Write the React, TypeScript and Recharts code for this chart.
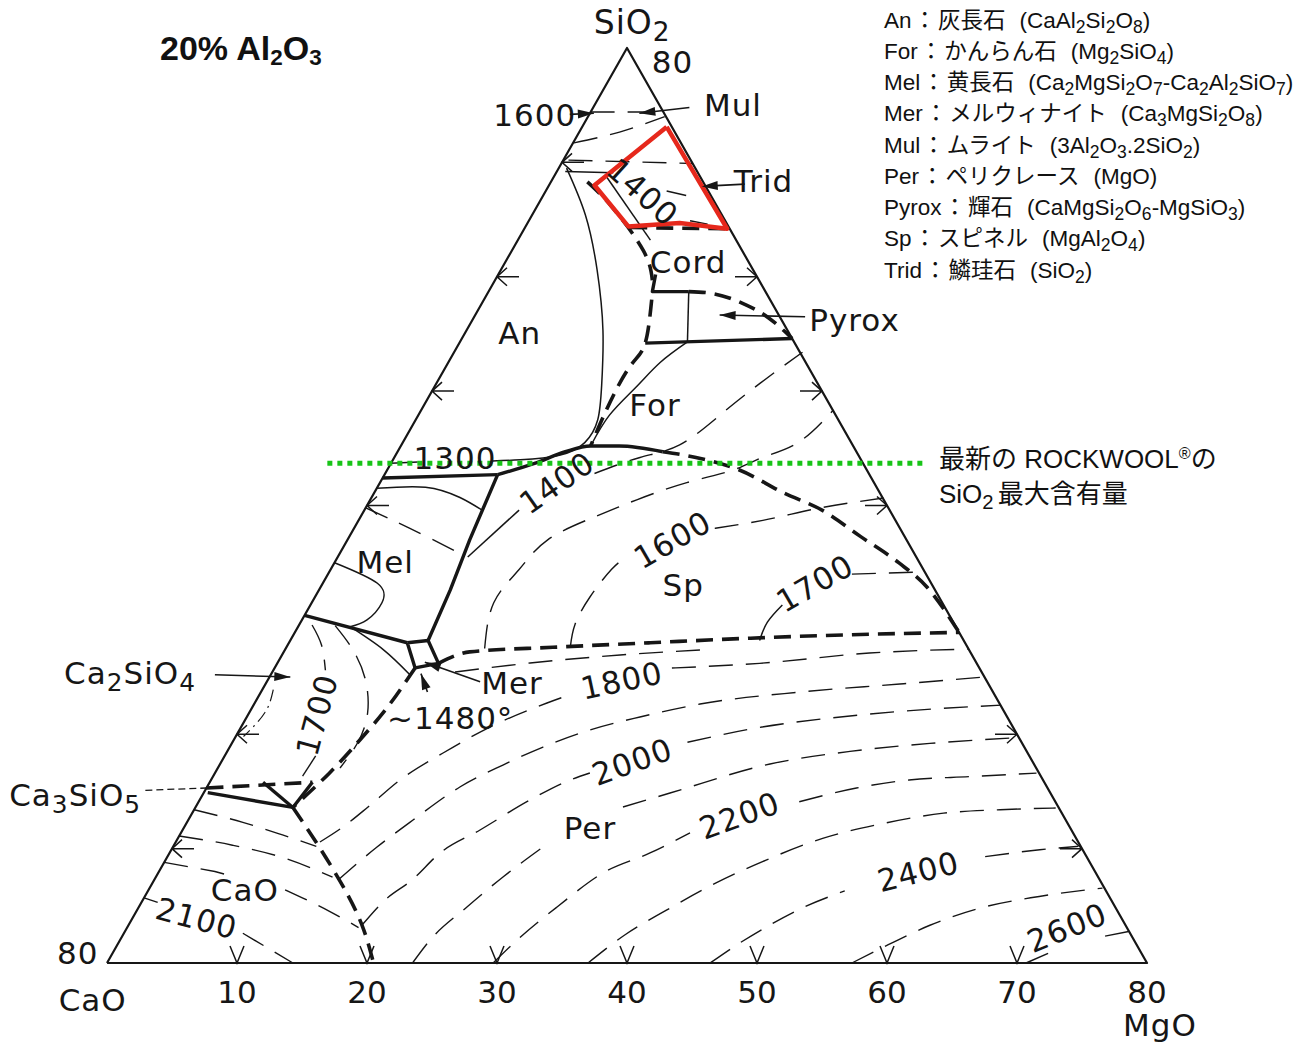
import React from "react";
import { ComposedChart, Line, Scatter, XAxis, YAxis } from "recharts";

// 20% Al2O3 section of CaO-MgO-SiO2. Every point is [MgO, SiO2] in wt%,
// CaO = 80 - MgO - SiO2. Plotted with x = MgO + SiO2/2, y = SiO2.
type Pt = [number, number];

const W = 1314;
const H = 1042;
const X_DOMAIN: [number, number] = [-8.2308, 92.846];
const Y_DOMAIN: [number, number] = [-6.9071, 84.1967];
const PX_X = W / (X_DOMAIN[1] - X_DOMAIN[0]);
const PX_Y = H / (Y_DOMAIN[1] - Y_DOMAIN[0]);
const INK = "#161616";

// --- frame
const TRIANGLE: Pt[] = [[0, 0], [0, 80], [80, 0], [0, 0]];

// --- thick solid boundaries
const MEL_TOP: Pt[] = [[0, 42.4], [8.7, 42.7]];
const MEL_SP: Pt[] = [[8.7, 42.7], [9.4, 37.0], [10.1, 32.6], [10.6, 28.2]];
const MEL_C2S: Pt[] = [[0, 30.4], [9.1, 28.0]];
const MER_BOX: Pt[] = [[9.1, 28.0], [10.6, 28.2], [12.4, 26.2], [10.8, 25.8], [9.1, 28.0]];
const AN_SP: Pt[] = [[8.7, 42.7], [11.1, 43.7], [12.9, 44.7], [14.6, 45.2], [16.8, 45.2], [20.4, 44.7]];
const FOR_PYROX: Pt[] = [[14.3, 54.2], [25.4, 54.6]];
const CORD_TICK: Pt[] = [[12.1, 60.2], [12.6, 58.7], [15.4, 58.7]];
const C3S_LOW: Pt[] = [[0.3, 14.9], [7.5, 13.6], [7.9, 15.8]];
const C3S_Y: Pt[] = [[4.1, 15.8], [7.5, 13.6]];

// --- thick dashed boundaries
const FOR_SP: Pt[] = [[20.4, 44.7], [23.2, 44.2], [27.1, 43.1], [31.5, 41.1], [35.2, 39.6], [39.3, 37.3], [43.4, 35.0], [46.6, 32.9], [51.1, 28.9]];
const SP_PER: Pt[] = [[12.4, 26.2], [14.3, 27.2], [20.5, 27.6], [27.8, 28.0], [35.3, 28.4], [42.8, 28.7], [51.1, 28.9]];
const MER_C3S: Pt[] = [[10.8, 25.8], [10.4, 22.4], [9.7, 19.5], [8.8, 16.6], [7.5, 13.6]];
const CAO_PER: Pt[] = [[7.5, 13.6], [11.3, 10.1], [15.4, 6.1], [18.3, 2.9], [20.5, 0]];
const CORD_FOR: Pt[] = [[12.9, 58.0], [14.3, 54.2], [14.2, 52.5], [14.1, 50.4], [14.3, 47.7], [14.6, 45.2]];
const CORD_TOP: Pt[] = [[2.8, 68.3], [5.8, 66.1], [10.1, 62.3], [12.1, 59.7]];
const CORD_PYROX: Pt[] = [[15.4, 58.7], [16.9, 58.6], [20.0, 57.7], [22.7, 56.4], [25.4, 54.6]];
const TRID_CORD: Pt[] = [[8.1, 64.3], [15.6, 64.2]];
const C3S_TOP: Pt[] = [[0, 15.3], [7.9, 15.8]];

// --- thin solid lines
const AN_LIQ: Pt[] = [[0.6, 69.5], [4.1, 65.4], [7.4, 60.6], [10.5, 55.3], [12.8, 50.5], [14.0, 47.5], [14.0, 45.5], [12.6, 44.4], [9.8, 44.0], [7.7, 43.9]];
const ISO_1300: Pt[] = [[0, 43.7], [2.0, 43.8]];
const FOR_THIN: Pt[] = [[14.6, 45.2], [14.7, 47.9], [15.5, 50.3], [16.3, 52.5], [17.5, 54.3]];
const CORD_VERT: Pt[] = [[15.4, 58.7], [17.5, 54.3]];
const MEL_ARC: Pt[] = [[0, 41.5], [3.7, 41.6], [6.8, 40.7], [9.05, 39.6]];
const MEL_BUBBLE: Pt[] = [[0, 35.0], [4.2, 33.2], [5.4, 31.5], [5.0, 30.0], [4.0, 29.4]];
const MEL_MER: Pt[] = [[4.0, 29.4], [7.55, 27.4], [10.7, 25.2]];
const TOP_SOLID: Pt[] = [[0.65, 69.2], [4.4, 69.1]];
const TOP_SLANT: Pt[] = [[4.1, 68.7], [10.2, 63.2]];
const ISO_1400_MEL: Pt[] = [[10.0, 35.5], [11.9, 39.6]];

// --- thin dashed isotherms
const ISO_1600_TOP: Pt[] = [[0, 74.4], [5.6, 74.4]];
const ISO_TOP_B: Pt[] = [[0.07, 71.7], [3.1, 72.65], [5.9, 74.0]];
const ISO_TOP_C: Pt[] = [[0.4, 70.2], [10.1, 69.9]];
const ISO_TRID_A: Pt[] = [[9.3, 67.5], [11.0, 67.1]];
const ISO_TRID_B: Pt[] = [[12.4, 64.9], [13.9, 64.6]];
const ISO_1400: Pt[] = [[16.1, 42.8], [18.9, 44.2], [21.4, 45.3], [23.2, 47.9], [24.9, 50.7], [26.8, 53.4]];
const ISO_1500: Pt[] = [[15.3, 27.5], [14.0, 31.5], [14.5, 34.4], [15.4, 37.0], [18.0, 39.0], [20.5, 40.5], [23.6, 42.0], [26.6, 43.1], [28.3, 44.2], [30.4, 45.5], [31.7, 48.35]];
const ISO_1600_A: Pt[] = [[21.8, 27.7], [21.2, 29.6], [21.15, 32.0], [21.6, 34.4], [22.15, 35.4]];
const ISO_1600_B: Pt[] = [[27.75, 38.0], [31.1, 38.7], [35.0, 39.8], [39.4, 40.65]];
const ISO_1700_A: Pt[] = [[36.1, 28.2], [35.9, 29.8], [36.3, 31.3]];
const ISO_1700_B: Pt[] = [[40.3, 34.0], [45.8, 34.2]];
const ISO_1700_PER: Pt[] = [[14.05, 25.44], [19.43, 26.23], [26.0, 26.93], [31.94, 27.37]];
const ISO_MEL: Pt[] = [[0, 39.8], [4.3, 38.0], [9.5, 35.7]];
const ISO_C2S_A: Pt[] = [[1.0, 29.55], [2.6, 27.8], [4.0, 25.6]];
const ISO_C2S_B: Pt[] = [[7.0, 18.1], [6.85, 16.0]];
const ISO_C2S_OUT: Pt[] = [[2.8, 29.5], [5.1, 27.5], [7.4, 24.9], [9.1, 21.9], [9.65, 19.3], [9.4, 17.05]];
const C2S_DOT: Pt[] = [[0.84, 23.9], [1.2, 21.9], [0.6, 19.8]];
const ISO_CAO_1: Pt[] = [[0, 13.4], [4.3, 12.3], [7.9, 11.2], [11.0, 10.2]];
const ISO_CAO_2: Pt[] = [[0, 11.1], [4.5, 10.3], [9.3, 9.1], [13.6, 7.5]];
const ISO_CAO_3A: Pt[] = [[0, 8.8], [4.3, 8.0], [5.4, 7.7]];
const ISO_CAO_3B: Pt[] = [[10.5, 6.4], [14.9, 4.5], [17.8, 3.1]];
const ISO_2100_A: Pt[] = [[0, 5.7], [1.25, 5.3]];
const ISO_2100_B: Pt[] = [[9.15, 2.6], [14.3, 0]];
const ISO_1800_A: Pt[] = [[11.09, 10.58], [12.2, 11.89], [13.26, 13.64], [14.54, 16.0], [16.67, 18.36], [19.14, 20.63], [22.48, 22.73], [24.01, 23.52]];
const ISO_1800_B: Pt[] = [[30.56, 25.79], [37.1, 26.2], [45.1, 27.1], [52.5, 27.45]];
const ISO_1900: Pt[] = [[14.14, 7.26], [15.7, 10.14], [17.29, 12.5], [19.45, 15.39], [21.8, 17.31], [24.1, 18.88], [26.96, 20.37], [30.24, 21.51], [34.3, 22.64], [41.46, 23.69], [48.8, 24.39], [54.96, 25.0]];
const ISO_2000_A: Pt[] = [[17.96, 3.32], [18.63, 5.51], [19.83, 7.26], [20.81, 9.62], [22.88, 11.63], [25.41, 14.25], [27.62, 16.0], [28.84, 16.61]];
const ISO_2000_B: Pt[] = [[35.0, 19.3], [39.7, 20.55], [47.2, 21.7], [57.5, 22.55]];
const ISO_2100_PA: Pt[] = [[23.5, 0], [23.85, 2.01], [25.24, 4.9], [26.7, 7.52], [28.47, 10.14]];
const ISO_2100_PB: Pt[] = [[32.87, 13.64], [35.88, 14.86], [42.3, 17.4], [47.9, 18.5], [53.7, 19.2], [60.2, 19.7]];
const ISO_2200_A: Pt[] = [[29.7, 0], [30.54, 2.01], [32.17, 4.9], [34.21, 7.87], [36.96, 9.62], [39.16, 11.37]];
const ISO_2200_B: Pt[] = [[46.2, 14.1], [50.0, 15.3], [53.7, 16.0], [58.25, 16.3], [63.2, 16.6]];
const ISO_2300: Pt[] = [[37.0, 0], [38.6, 2.45], [40.7, 4.6], [43.35, 7.0], [46.2, 9.0], [49.6, 10.9], [53.6, 12.2], [57.8, 13.1], [62.0, 13.4], [66.2, 13.55]];
const ISO_2400_A: Pt[] = [[46.4, 0], [47.8, 1.75], [49.3, 3.3], [51.2, 4.9], [53.6, 6.3]];
const ISO_2400_B: Pt[] = [[62.9, 9.3], [66.8, 9.9], [69.6, 10.2]];
const ISO_2500: Pt[] = [[57.3, 0], [59.3, 1.6], [61.65, 3.3], [64.75, 4.8], [68.2, 5.7], [73.3, 6.55]];
const ISO_2600_A: Pt[] = [[70.7, 0], [72.65, 1.3]];
const ISO_2600_B: Pt[] = [[75.6, 2.35], [77.4, 2.8]];

// --- leaders (last point = arrow tip)
const LEAD_1600: Pt[] = [[-1.5, 74.2], [0.3, 74.3]];
const LEAD_MUL: Pt[] = [[7.4, 74.8], [3.8, 74.3]];
const LEAD_TRID: Pt[] = [[15.0, 68.1], [11.8, 67.9]];
const LEAD_PYROX: Pt[] = [[25.45, 56.5], [18.8, 56.65]];
const LEAD_C2S: Pt[] = [[-4.3, 25.2], [1.6, 25.0]];
const LEAD_MER: Pt[] = [[16.4, 24.6], [11.3, 26.3]];
const LEAD_1480: Pt[] = [[12.8, 23.7], [11.5, 25.3]];
const LEAD_C3S: Pt[] = [[-4.6, 15.1], [0, 15.3]];

// --- annotations
const RED_ZONE: Pt[] = [[6.5, 73.1], [3.5, 68.0], [7.9, 64.4], [11.7, 64.7], [15.6, 64.2], [6.5, 73.1]];
const ROCKWOOL_MAX_SIO2: Pt[] = [[-4.9, 43.7], [41.1, 43.7]];

// --- edge arrows
const LEFT_ARROWS_SIO2 = [70, 60, 50, 40, 20, 10];
const RIGHT_ARROWS_SIO2 = [60, 50, 40, 20, 10];
const BASE_ARROWS_MGO = [10, 20, 30, 40, 50, 60, 70];
const BASE_TICKS = [10, 20, 30, 40, 50, 60, 70, 80];

type Lab = { text: string; at: Pt; rotate?: number; chem?: boolean; size?: number };
const LABELS: Lab[] = [
  { text: "SiO2", at: [-0.75, 82.3], chem: true, size: 33 },
  { text: "80", at: [4.1, 78.8] },
  { text: "1600", at: [-4.15, 74.1] },
  { text: "Mul", at: [10.65, 75.0] },
  { text: "Trid", at: [16.3, 68.4] },
  { text: "1400", at: [7.5, 67.4], rotate: 42 },
  { text: "Cord", at: [14.05, 61.3] },
  { text: "Pyrox", at: [29.4, 56.2] },
  { text: "An", at: [4.2, 55.1] },
  { text: "For", at: [17.75, 48.8] },
  { text: "1300", at: [4.7, 44.15] },
  { text: "1400", at: [13.6, 42.0], rotate: -35 },
  { text: "Mel", at: [3.85, 35.1] },
  { text: "1600", at: [25.0, 37.0], rotate: -30 },
  { text: "Sp", at: [27.8, 33.05] },
  { text: "1700", at: [37.85, 33.2], rotate: -30 },
  { text: "Ca2SiO4", at: [-10.9, 25.35], chem: true },
  { text: "Mer", at: [18.9, 24.5] },
  { text: "~1480°", at: [15.7, 21.4] },
  { text: "1700", at: [5.3, 21.7], rotate: -75 },
  { text: "1800", at: [27.25, 24.7], rotate: -12 },
  { text: "2000", at: [31.6, 17.6], rotate: -20 },
  { text: "Ca3SiO5", at: [-9.8, 14.7], chem: true },
  { text: "Per", at: [31.25, 11.8] },
  { text: "2200", at: [42.2, 12.9], rotate: -20 },
  { text: "CaO", at: [7.4, 6.4] },
  { text: "2400", at: [58.4, 8.0], rotate: -14 },
  { text: "2100", at: [4.95, 3.9], rotate: 15 },
  { text: "2600", at: [72.3, 3.1], rotate: -22 },
  { text: "80", at: [-2.7, 0.9] },
  { text: "CaO", at: [0.5, -3.2] },
  { text: "MgO", at: [83.7, -5.4] },
];

const LEGEND: [string, string, string][] = [
  ["An", "灰長石", "CaAl2Si2O8"],
  ["For", "かんらん石", "Mg2SiO4"],
  ["Mel", "黄長石", "Ca2MgSi2O7-Ca2Al2SiO7"],
  ["Mer", "メルウィナイト", "Ca3MgSi2O8"],
  ["Mul", "ムライト", "3Al2O3.2SiO2"],
  ["Per", "ペリクレース", "MgO"],
  ["Pyrox", "輝石", "CaMgSi2O6-MgSiO3"],
  ["Sp", "スピネル", "MgAl2O4"],
  ["Trid", "鱗珪石", "SiO2"],
];

const STYLES: Record<string, any> = {
  frame: { stroke: INK, strokeWidth: 2.2 },
  thick: { stroke: INK, strokeWidth: 3.4 },
  thickDash: { stroke: INK, strokeWidth: 3.6, strokeDasharray: "17 9" },
  thin: { stroke: INK, strokeWidth: 1.5 },
  thinDash: { stroke: INK, strokeWidth: 1.4, strokeDasharray: "24 13" },
  dotDash: { stroke: INK, strokeWidth: 1.2, strokeDasharray: "12 5 2 5" },
  leader: { stroke: INK, strokeWidth: 1.6 },
  leaderDash: { stroke: INK, strokeWidth: 1.3, strokeDasharray: "7 4" },
  red: { stroke: "#e6281c", strokeWidth: 4.5 },
  green: { stroke: "#18c418", strokeWidth: 5, strokeDasharray: "5 5" },
};

const SERIES: { id: string; pts: Pt[]; style: string; curve?: string }[] = [
  { id: "tri", pts: TRIANGLE, style: "frame" },
  { id: "melTop", pts: MEL_TOP, style: "thick" },
  { id: "melSp", pts: MEL_SP, style: "thick" },
  { id: "melC2s", pts: MEL_C2S, style: "thick" },
  { id: "merBox", pts: MER_BOX, style: "thick" },
  { id: "anSp", pts: AN_SP, style: "thick", curve: "monotoneX" },
  { id: "forPyrox", pts: FOR_PYROX, style: "thick" },
  { id: "cordTick", pts: CORD_TICK, style: "thick" },
  { id: "c3sLow", pts: C3S_LOW, style: "thick" },
  { id: "c3sY", pts: C3S_Y, style: "thick" },
  { id: "forSp", pts: FOR_SP, style: "thickDash", curve: "monotoneX" },
  { id: "spPer", pts: SP_PER, style: "thickDash", curve: "monotoneX" },
  { id: "merC3s", pts: MER_C3S, style: "thickDash", curve: "natural" },
  { id: "caoPer", pts: CAO_PER, style: "thickDash", curve: "natural" },
  { id: "cordFor", pts: CORD_FOR, style: "thickDash", curve: "natural" },
  { id: "cordTop", pts: CORD_TOP, style: "thickDash", curve: "natural" },
  { id: "cordPyrox", pts: CORD_PYROX, style: "thickDash", curve: "monotoneX" },
  { id: "tridCord", pts: TRID_CORD, style: "thickDash" },
  { id: "c3sTop", pts: C3S_TOP, style: "thickDash" },
  { id: "anLiq", pts: AN_LIQ, style: "thin", curve: "natural" },
  { id: "iso1300", pts: ISO_1300, style: "thin" },
  { id: "forThin", pts: FOR_THIN, style: "thin", curve: "natural" },
  { id: "cordVert", pts: CORD_VERT, style: "thin" },
  { id: "melArc", pts: MEL_ARC, style: "thin", curve: "natural" },
  { id: "melBubble", pts: MEL_BUBBLE, style: "thin", curve: "natural" },
  { id: "melMer", pts: MEL_MER, style: "thin", curve: "natural" },
  { id: "topSolid", pts: TOP_SOLID, style: "thin" },
  { id: "topSlant", pts: TOP_SLANT, style: "thin" },
  { id: "iso1400Mel", pts: ISO_1400_MEL, style: "thin" },
  { id: "iso1600Top", pts: ISO_1600_TOP, style: "thinDash" },
  { id: "isoTopB", pts: ISO_TOP_B, style: "thinDash", curve: "natural" },
  { id: "isoTopC", pts: ISO_TOP_C, style: "thinDash" },
  { id: "isoTridA", pts: ISO_TRID_A, style: "thin" },
  { id: "isoTridB", pts: ISO_TRID_B, style: "thin" },
  { id: "iso1400", pts: ISO_1400, style: "thinDash", curve: "natural" },
  { id: "iso1500", pts: ISO_1500, style: "thinDash", curve: "natural" },
  { id: "iso1600A", pts: ISO_1600_A, style: "thinDash", curve: "natural" },
  { id: "iso1600B", pts: ISO_1600_B, style: "thinDash", curve: "monotoneX" },
  { id: "iso1700A", pts: ISO_1700_A, style: "thin", curve: "natural" },
  { id: "iso1700B", pts: ISO_1700_B, style: "thinDash" },
  { id: "iso1700Per", pts: ISO_1700_PER, style: "thinDash", curve: "monotoneX" },
  { id: "isoMel", pts: ISO_MEL, style: "thinDash", curve: "natural" },
  { id: "isoC2sA", pts: ISO_C2S_A, style: "thinDash", curve: "natural" },
  { id: "isoC2sB", pts: ISO_C2S_B, style: "thinDash" },
  { id: "isoC2sOut", pts: ISO_C2S_OUT, style: "thinDash", curve: "natural" },
  { id: "c2sDot", pts: C2S_DOT, style: "dotDash", curve: "natural" },
  { id: "isoCao1", pts: ISO_CAO_1, style: "thinDash", curve: "monotoneX" },
  { id: "isoCao2", pts: ISO_CAO_2, style: "thinDash", curve: "monotoneX" },
  { id: "isoCao3a", pts: ISO_CAO_3A, style: "thinDash" },
  { id: "isoCao3b", pts: ISO_CAO_3B, style: "thinDash", curve: "monotoneX" },
  { id: "iso2100a", pts: ISO_2100_A, style: "thinDash" },
  { id: "iso2100b", pts: ISO_2100_B, style: "thinDash" },
  { id: "iso1800a", pts: ISO_1800_A, style: "thinDash", curve: "monotoneX" },
  { id: "iso1800b", pts: ISO_1800_B, style: "thinDash", curve: "monotoneX" },
  { id: "iso1900", pts: ISO_1900, style: "thinDash", curve: "monotoneX" },
  { id: "iso2000a", pts: ISO_2000_A, style: "thinDash", curve: "monotoneX" },
  { id: "iso2000b", pts: ISO_2000_B, style: "thinDash", curve: "monotoneX" },
  { id: "iso2100pa", pts: ISO_2100_PA, style: "thinDash", curve: "monotoneX" },
  { id: "iso2100pb", pts: ISO_2100_PB, style: "thinDash", curve: "monotoneX" },
  { id: "iso2200a", pts: ISO_2200_A, style: "thinDash", curve: "monotoneX" },
  { id: "iso2200b", pts: ISO_2200_B, style: "thinDash", curve: "monotoneX" },
  { id: "iso2300", pts: ISO_2300, style: "thinDash", curve: "monotoneX" },
  { id: "iso2400a", pts: ISO_2400_A, style: "thinDash", curve: "monotoneX" },
  { id: "iso2400b", pts: ISO_2400_B, style: "thinDash", curve: "monotoneX" },
  { id: "iso2500", pts: ISO_2500, style: "thinDash", curve: "monotoneX" },
  { id: "iso2600a", pts: ISO_2600_A, style: "thinDash" },
  { id: "iso2600b", pts: ISO_2600_B, style: "thinDash" },
  { id: "lead1600", pts: LEAD_1600, style: "leader" },
  { id: "leadMul", pts: LEAD_MUL, style: "leader" },
  { id: "leadTrid", pts: LEAD_TRID, style: "leader" },
  { id: "leadPyrox", pts: LEAD_PYROX, style: "leader" },
  { id: "leadC2s", pts: LEAD_C2S, style: "leader" },
  { id: "leadMer", pts: LEAD_MER, style: "leader" },
  { id: "lead1480", pts: LEAD_1480, style: "leader" },
  { id: "leadC3s", pts: LEAD_C3S, style: "leaderDash" },
  { id: "red", pts: RED_ZONE, style: "red" },
  { id: "green", pts: ROCKWOOL_MAX_SIO2, style: "green" },
];

const toXY = (p: Pt) => ({ x: p[0] + p[1] / 2, y: p[1] });

const ARROW_LEADERS = [LEAD_1600, LEAD_MUL, LEAD_TRID, LEAD_PYROX, LEAD_C2S, LEAD_MER, LEAD_1480];
const arrowData = ARROW_LEADERS.map((l) => {
  const a = toXY(l[l.length - 2]);
  const b = toXY(l[l.length - 1]);
  const angle = (Math.atan2(-(b.y - a.y) * PX_Y, (b.x - a.x) * PX_X) * 180) / Math.PI;
  return { ...b, angle };
});

const edgeData = [
  ...LEFT_ARROWS_SIO2.map((s) => ({ ...toXY([0, s]), kind: "left" })),
  ...RIGHT_ARROWS_SIO2.map((s) => ({ ...toXY([80 - s, s]), kind: "right" })),
  ...BASE_ARROWS_MGO.map((m) => ({ ...toXY([m, 0]), kind: "base" })),
];

const labelData = LABELS.map((l) => ({ ...toXY(l.at), ...l }));
const tickData = BASE_TICKS.map((v) => ({ ...toXY([v, 0]), text: String(v) }));

const isSubDigit = (f: string, i: number, inSub: boolean) =>
  /[0-9]/.test(f[i]) && (inSub || (i > 0 && /[A-Za-z)]/.test(f[i - 1])));

function svgChem(text: string, size: number) {
  const out: React.ReactNode[] = [];
  let buf = "";
  let sub = "";
  let lowered = false;
  const flushBuf = (k: number) => {
    if (!buf) return;
    out.push(<tspan key={"t" + k} dy={lowered ? -size * 0.28 : 0}>{buf}</tspan>);
    lowered = false;
    buf = "";
  };
  for (let i = 0; i < text.length; i++) {
    if (isSubDigit(text, i, sub !== "")) {
      flushBuf(i);
      sub += text[i];
    } else {
      if (sub) {
        out.push(<tspan key={"s" + i} dy={size * 0.28} fontSize={size * 0.8}>{sub}</tspan>);
        lowered = true;
        sub = "";
      }
      buf += text[i];
    }
  }
  flushBuf(text.length);
  if (sub) out.push(<tspan key="send" dy={size * 0.28} fontSize={size * 0.8}>{sub}</tspan>);
  return out;
}

const SUB_STYLE: React.CSSProperties = { fontSize: "0.78em", verticalAlign: "-0.28em", lineHeight: 0 };

function htmlChem(f: string) {
  const out: React.ReactNode[] = [];
  let buf = "";
  let sub = "";
  for (let i = 0; i < f.length; i++) {
    if (isSubDigit(f, i, sub !== "")) {
      if (buf) { out.push(buf); buf = ""; }
      sub += f[i];
    } else {
      if (sub) { out.push(<sub key={i} style={SUB_STYLE}>{sub}</sub>); sub = ""; }
      buf += f[i];
    }
  }
  if (sub) out.push(<sub key="end" style={SUB_STYLE}>{sub}</sub>);
  if (buf) out.push(buf);
  return out;
}

function LabelShape(props: any) {
  const { cx, cy, payload } = props;
  const size = payload.size ?? 31;
  return (
    <text
      x={cx}
      y={cy}
      transform={payload.rotate ? `rotate(${payload.rotate} ${cx} ${cy})` : undefined}
      textAnchor="middle"
      dominantBaseline="central"
      fontFamily="DejaVu Sans"
      fontSize={size}
      letterSpacing={1}
      fill={INK}
    >
      {payload.chem ? svgChem(payload.text, size) : payload.text}
    </text>
  );
}

function TickShape(props: any) {
  const { cx, cy, payload } = props;
  return (
    <text x={cx} y={cy + 29} textAnchor="middle" dominantBaseline="central" fontFamily="DejaVu Sans" fontSize={31} fill={INK}>
      {payload.text}
    </text>
  );
}

function EdgeArrow(props: any) {
  const { cx, cy, payload } = props;
  let d = "";
  if (payload.kind === "left") d = `M${cx},${cy}h22M${cx + 10},${cy - 9}L${cx},${cy}L${cx + 10},${cy + 9}`;
  else if (payload.kind === "right") d = `M${cx},${cy}h-22M${cx - 10},${cy - 9}L${cx},${cy}L${cx - 10},${cy + 9}`;
  else d = `M${cx - 7},${cy - 17}L${cx},${cy}L${cx + 7},${cy - 17}`;
  return <path d={d} stroke={INK} strokeWidth={1.5} fill="none" />;
}

function ArrowHead(props: any) {
  const { cx, cy, payload } = props;
  return (
    <path
      d="M0,0L-16,-4.5L-16,4.5Z"
      fill={INK}
      transform={`translate(${cx} ${cy}) rotate(${payload.angle})`}
    />
  );
}

export default function App() {
  return (
    <div style={{ position: "relative", width: W, height: H, background: "#fff" }}>
      <style>{"body{margin:0;background:#fff}"}</style>
      <ComposedChart width={W} height={H} margin={{ top: 0, right: 0, bottom: 0, left: 0 }}>
        <XAxis type="number" dataKey="x" domain={X_DOMAIN} allowDataOverflow hide />
        <YAxis type="number" dataKey="y" domain={Y_DOMAIN} allowDataOverflow hide />
        {SERIES.map((s) => (
          <Line
            key={s.id}
            data={s.pts.map(toXY)}
            dataKey="y"
            type={(s.curve ?? "linear") as any}
            dot={false}
            activeDot={false}
            legendType="none"
            strokeLinejoin="round"
            isAnimationActive={false}
            {...STYLES[s.style]}
          />
        ))}
        <Scatter data={edgeData} shape={EdgeArrow} isAnimationActive={false} />
        <Scatter data={arrowData} shape={ArrowHead} isAnimationActive={false} />
        <Scatter data={labelData} shape={LabelShape} isAnimationActive={false} />
        <Scatter data={tickData} shape={TickShape} isAnimationActive={false} />
      </ComposedChart>

      <div
        style={{
          position: "absolute",
          left: 160,
          top: 31,
          fontFamily: "Liberation Sans, Arial, sans-serif",
          fontWeight: "bold",
          fontSize: 34,
          lineHeight: "34px",
          color: "#111",
          whiteSpace: "nowrap",
        }}
      >
        20% Al<sub style={{ fontSize: "0.66em", verticalAlign: "-0.22em", lineHeight: 0 }}>2</sub>O
        <sub style={{ fontSize: "0.66em", verticalAlign: "-0.22em", lineHeight: 0 }}>3</sub>
      </div>

      {LEGEND.map(([abbr, jp, formula], i) => (
        <div
          key={abbr}
          style={{
            position: "absolute",
            left: 884,
            top: 8.5 + i * 31.25,
            fontFamily: "Liberation Sans, 'Noto Sans CJK JP', sans-serif",
            fontSize: 22.5,
            lineHeight: "23px",
            color: "#111",
            whiteSpace: "nowrap",
          }}
        >
          {abbr}
          <span style={{ margin: "0 2px" }}>：</span>
          {jp}
          <span style={{ marginLeft: 14 }}>({htmlChem(formula)})</span>
        </div>
      ))}

      <div
        style={{
          position: "absolute",
          left: 939,
          top: 442,
          fontFamily: "Liberation Sans, 'Noto Sans CJK JP', sans-serif",
          fontSize: 26,
          lineHeight: "35px",
          color: "#111",
          whiteSpace: "nowrap",
        }}
      >
        <div>
          最新の ROCKWOOL<sup style={{ fontSize: "0.62em", verticalAlign: "0.55em", lineHeight: 0 }}>®</sup>の
        </div>
        <div>
          SiO<sub style={SUB_STYLE}>2</sub>
          <span style={{ marginLeft: 4 }}>最大含有量</span>
        </div>
      </div>
    </div>
  );
}
